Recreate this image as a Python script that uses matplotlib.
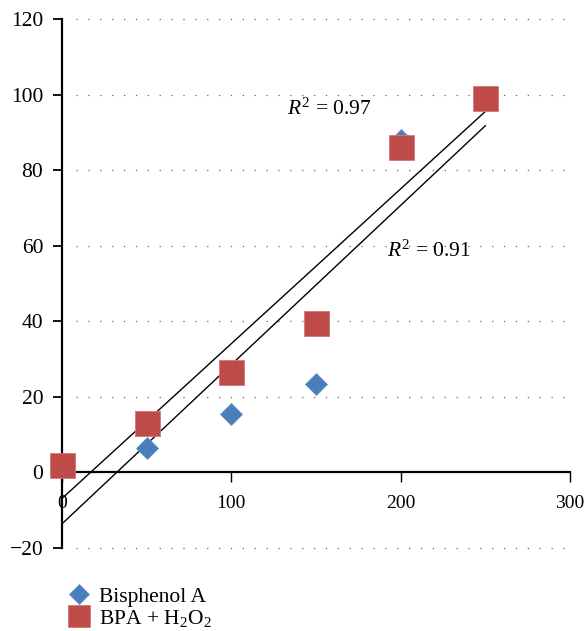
import numpy as np
import matplotlib.pyplot as plt

# Removal (%) against concentration
conc = [0, 50, 100, 150, 200, 250]
bpa = [2, 6.5, 15.5, 23.5, 88, 99]
bpa_h2o2 = [2, 13, 26.5, 39.5, 86, 99]
r2_labels = ["$R^2$ = 0.97", "$R^2$ = 0.91"]

plt.rcParams['font.family'] = ['Liberation Serif', 'DejaVu Serif']
plt.rcParams['mathtext.fontset'] = 'custom'
plt.rcParams['mathtext.rm'] = 'Liberation Serif'
plt.rcParams['mathtext.it'] = 'Liberation Serif:italic'

blue = '#4a7ebb'
red = '#be4b48'

fig = plt.figure(figsize=(5.84, 6.31), dpi=100)
ax = fig.add_axes([0.1062, 0.1315, 0.8699, 0.8384])

ax.set_xlim(0, 300)
ax.set_ylim(-20, 120)

# dotted grid
for yv in [-20, 20, 40, 60, 80, 100, 120]:
    ax.plot([8, 300], [yv, yv], color='#666666', lw=0.9,
            linestyle=(0, (1, 8.5)), zorder=1, clip_on=False)

# linear fits
x = np.array(conc, dtype=float)
xs = np.array([0, 250])
for ys in [bpa_h2o2, bpa]:
    k, b = np.polyfit(x, ys, 1)
    ax.plot(xs, k * xs + b, color='black', lw=1.0, zorder=2, clip_on=False)

ax.plot(conc, bpa, linestyle='none', marker='D', ms=11.5, color=blue,
        mec='#6a94c8', mew=0.6, zorder=3, clip_on=False, label='Bisphenol A')
ax.plot(conc, bpa_h2o2, linestyle='none', marker='s', ms=18, color=red,
        mec='#d07a78', mew=0.6, zorder=4, clip_on=False,
        label='BPA + H$_2$O$_2$')

ax.text(133, 96, r2_labels[0], fontsize=15.5, va='center', ha='left')
ax.text(192, 58.5, r2_labels[1], fontsize=15.5, va='center', ha='left')

# axes styling
ax.spines['top'].set_visible(False)
ax.spines['right'].set_visible(False)
ax.spines['bottom'].set_position(('data', 0))
ax.spines['left'].set_linewidth(1.6)
ax.spines['bottom'].set_linewidth(1.6)
ax.set_xticks([0, 100, 200, 300])
ax.set_yticks([-20, 0, 20, 40, 60, 80, 100, 120])
ax.tick_params(axis='x', direction='out', length=7, width=1, pad=9,
               labelsize=14)
ax.tick_params(axis='y', direction='out', length=6.5, width=1.3, pad=7,
               labelsize=15.5)

ax.legend(loc='lower left', bbox_to_anchor=(0.098, -0.01),
          bbox_transform=fig.transFigure, frameon=False, fontsize=15.5,
          handletextpad=0.35, labelspacing=0.05, handlelength=1.2,
          borderaxespad=0, markerscale=0.85)

fig.savefig('out.png', dpi=100)
